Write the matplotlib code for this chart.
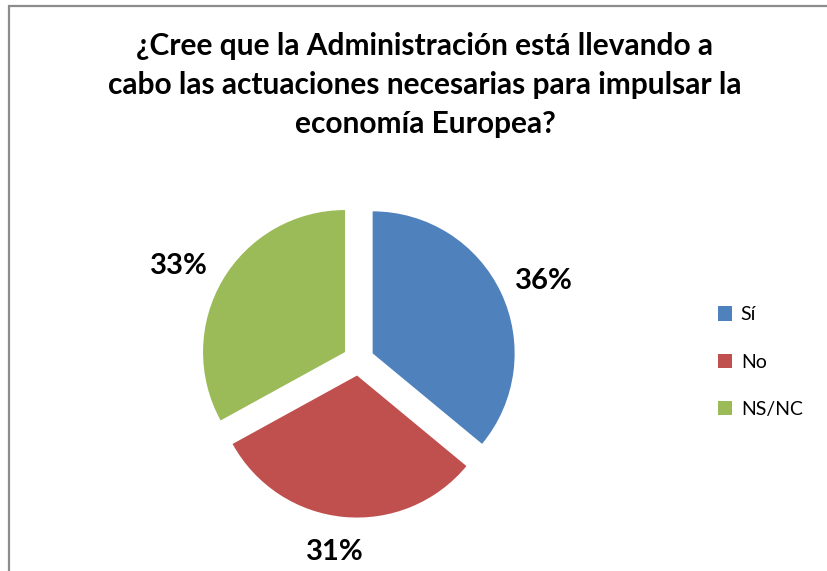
import matplotlib
matplotlib.use("Agg")
import matplotlib.pyplot as plt
import numpy as np
from matplotlib.patches import Rectangle

# datos
categorias = ["Sí", "No", "NS/NC"]
valores = [36, 31, 33]
colores = ["#4F81BD", "#C0504D", "#9BBB59"]
titulo = "¿Cree que la Administración está llevando a\ncabo las actuaciones necesarias para impulsar la\neconomía Europea?"

plt.rcParams["font.family"] = ["Lato", "DejaVu Sans"]

W, H = 827, 571
fig = plt.figure(figsize=(W / 100, H / 100), dpi=100)

# marco gris (recortado a la derecha y abajo como en el original)
fig.patches.append(Rectangle((8.5 / W, -0.1), 1.2, 1.1 - 5.5 / H, transform=fig.transFigure,
                             fill=False, edgecolor="#8c8c8c", lw=1.6))

fig.text(425 / W, 1 - 85 / H, titulo, ha="center", va="center", fontsize=21.5,
         fontweight="bold", linespacing=1.48, color="black")

# ejes del pie en pixeles: centro (358.5, 360), radio 142
r = 142
half = 200
ax = fig.add_axes([(358.5 - half) / W, (H - 360 - half) / H, 2 * half / W, 2 * half / H])

wedges, texts, autotexts = ax.pie(valores, colors=colores, startangle=90, counterclock=False,
                                  explode=[0.11] * 3, radius=1, autopct="%d%%", pctdistance=1.29,
                                  textprops=dict(fontsize=21, fontweight="bold"))

# colocar las etiquetas como en el original (distancia y giro por porcion)
dist = [1.317, 1.228, 1.325]
giro = [-1.5, -1.9, 2.3]
for w, t, d, g in zip(wedges, autotexts, dist, giro):
    ang = np.deg2rad((w.theta1 + w.theta2) / 2 + g)
    cx, cy = w.center
    t.set_position((cx + d * np.cos(ang), cy + d * np.sin(ang) - 3 / r))

ax.set_xlim(-half / r, half / r)
ax.set_ylim(-half / r, half / r)
ax.set_aspect("equal")
ax.axis("off")

leg = fig.legend(wedges, categorias, loc="center left", bbox_to_anchor=(700 / W, 1 - 362 / H),
                 frameon=False, fontsize=14, handlelength=0.75, handleheight=0.75,
                 handletextpad=0.45, labelspacing=1.55)

fig.savefig("out.png", dpi=100)
